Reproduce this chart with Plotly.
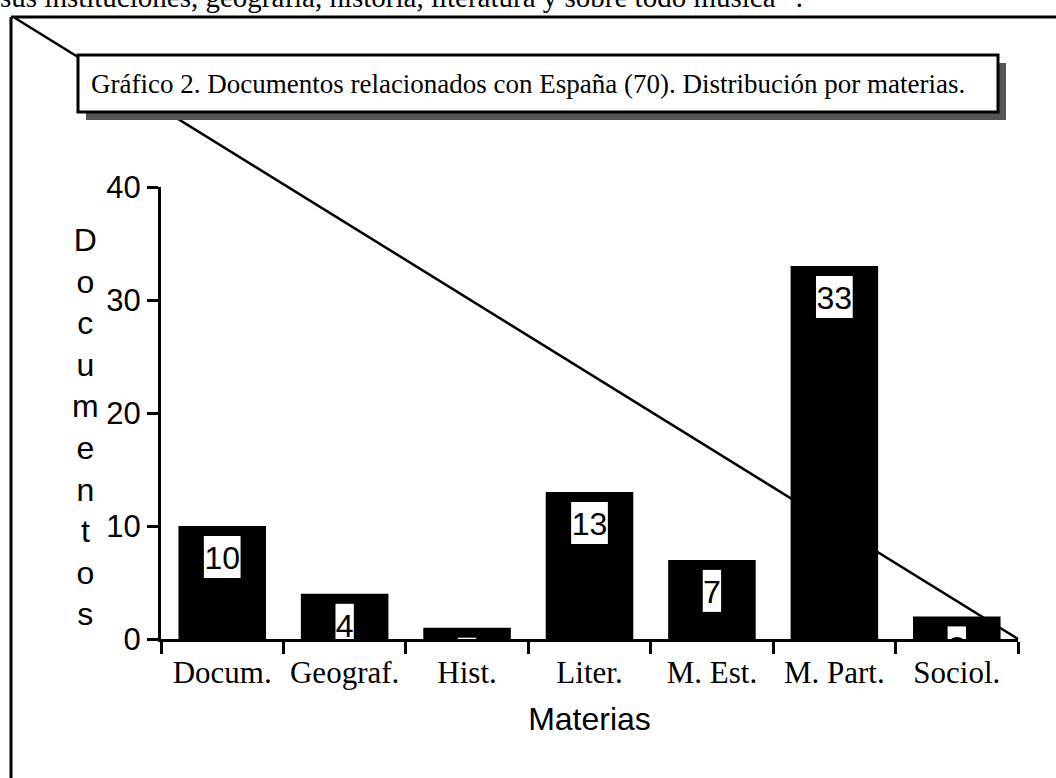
import plotly.graph_objects as go

# datos del gráfico
materias = ["Docum.", "Geograf.", "Hist.", "Liter.", "M. Est.", "M. Part.", "Sociol."]
documentos = [10, 4, 1, 13, 7, 33, 2]
y_ticks = [0, 10, 20, 30, 40]

titulo = "Gráfico 2. Documentos relacionados con España (70). Distribución por materias."
texto_previo = "sus instituciones, geografía, historia, literatura y sobre todo música<sup>44</sup>."

W, H = 1056, 778
L, R, T, B = 161, 38, 187, 139
pw, ph = W - L - R, H - T - B


def px(x, y):
    # pixel de la página -> coordenadas paper
    return (x - L) / pw, (H - B - y) / ph


fig = go.Figure()

# barras negras
fig.add_trace(go.Bar(x=materias, y=documentos, width=0.715,
                     marker=dict(color="black", line=dict(width=0)),
                     hoverinfo="skip", showlegend=False))

# cajas blancas de las etiquetas (recortadas por el eje)
upp = 40 / ph  # unidades por pixel
fig.add_trace(go.Bar(x=materias, y=[42 * upp] * len(documentos),
                     base=[v - 52 * upp for v in documentos],
                     width=[0.30 if v >= 10 else 0.15 for v in documentos],
                     marker=dict(color="white", line=dict(width=0)),
                     hoverinfo="skip", showlegend=False))

fig.add_trace(go.Scatter(x=materias, y=[v - 35 * upp for v in documentos],
                         mode="text", text=[str(v) for v in documentos],
                         textfont=dict(family="Liberation Sans, Arial", size=32, color="black"),
                         cliponaxis=True, hoverinfo="skip", showlegend=False))

fig.update_layout(
    width=W, height=H,
    margin=dict(l=L, r=R, t=T, b=B),
    paper_bgcolor="white", plot_bgcolor="white",
    barmode="overlay", showlegend=False,
    xaxis=dict(type="category", range=[-0.5, 6.5], showline=True, linecolor="black",
               linewidth=3, ticks="outside", ticklen=12, tickwidth=3, tickcolor="black",
               tickson="boundaries", showgrid=False, ticklabelstandoff=4,
               tickfont=dict(family="Liberation Serif, Times New Roman", size=31, color="black"),
               title=dict(text="Materias", standoff=19,
                          font=dict(family="Liberation Sans, Arial", size=32, color="black"))),
    yaxis=dict(range=[0, 40], tickvals=y_ticks, showline=True, linecolor="black",
               linewidth=3, ticks="outside", ticklen=11, tickwidth=3, tickcolor="black",
               showgrid=False, zeroline=False,
               tickfont=dict(family="Liberation Sans, Arial", size=31, color="black")),
)

shapes = []
# marco exterior
x0, y0 = px(11, 17)
x1, y1 = px(W + 5, H + 5)
shapes.append(dict(type="line", xref="paper", yref="paper", x0=x0, y0=y0, x1=x0, y1=y1,
                   line=dict(color="black", width=3)))
shapes.append(dict(type="line", xref="paper", yref="paper", x0=x0, y0=y0, x1=x1, y1=y0,
                   line=dict(color="black", width=3)))
# línea diagonal
a0, b0 = px(15, 18)
a1, b1 = px(1018, 639)
shapes.append(dict(type="line", xref="paper", yref="paper", x0=a0, y0=b0, x1=a1, y1=b1,
                   line=dict(color="black", width=2.5)))
# caja del título con sombra
s0, t0 = px(86, 63)
s1, t1 = px(1006, 120)
shapes.append(dict(type="rect", xref="paper", yref="paper", x0=s0, y0=t0, x1=s1, y1=t1,
                   fillcolor="#555555", line=dict(width=0)))
r0, u0 = px(78, 55)
r1, u1 = px(998, 112)
shapes.append(dict(type="rect", xref="paper", yref="paper", x0=r0, y0=u0, x1=r1, y1=u1,
                   fillcolor="white", line=dict(color="black", width=3)))
fig.update_layout(shapes=shapes)

tx, ty = px(89, 84)
fig.add_annotation(x=tx, y=ty, xref="paper", yref="paper", text=titulo, showarrow=False,
                   xanchor="left", yanchor="middle",
                   font=dict(family="Liberation Serif, Times New Roman", size=27, color="black"))

px_, py_ = px(-2, 15)
fig.add_annotation(x=px_, y=py_, xref="paper", yref="paper", text=texto_previo, showarrow=False,
                   xanchor="left", yanchor="bottom",
                   font=dict(family="Liberation Serif, Times New Roman", size=29, color="black"))

# título del eje y, letra a letra
vx, vy = px(85, 427)
fig.add_annotation(x=vx, y=vy, xref="paper", yref="paper",
                   text="<br>".join(list("Documentos")), showarrow=False,
                   xanchor="center", yanchor="middle",
                   font=dict(family="Liberation Sans, Arial", size=32, color="black"))

# sin margen del body para que la figura empiece en (0, 0)
fig.write_html("out.html", config={"displayModeBar": False},
               post_script="document.body.style.margin='0';")
